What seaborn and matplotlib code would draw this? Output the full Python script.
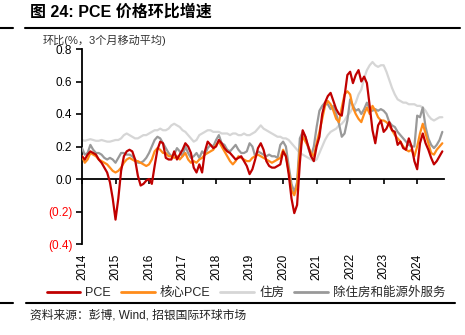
import numpy as np
import pandas as pd
import matplotlib
matplotlib.use("Agg")
import matplotlib.pyplot as plt
import seaborn as sns
from matplotlib.lines import Line2D

# ---- data (monthly, 3-month moving average, % m/m), Jan 2014 onward ----
pce = [0.14, 0.12, 0.15, 0.17, 0.16, 0.15, 0.12, 0.10, 0.07, 0.04, -0.02, -0.12,
       -0.25, -0.12, 0.05, 0.14, 0.17, 0.18, 0.17, 0.12, 0.02, -0.04, -0.03, -0.01,
       0.00, -0.03, 0.08, 0.18, 0.23, 0.22, 0.13, 0.12, 0.12, 0.17, 0.12, 0.15,
       0.18, 0.22, 0.20, 0.16, 0.07, 0.04, 0.09, 0.04, 0.17, 0.23, 0.21, 0.19,
       0.20, 0.24, 0.22, 0.19, 0.17, 0.16, 0.14, 0.12, 0.13, 0.14, 0.11, 0.08,
       0.03, 0.06, 0.12, 0.19, 0.22, 0.18, 0.11, 0.08, 0.07, 0.07, 0.08, 0.09,
       0.17, 0.14, 0.03, -0.12, -0.21, -0.16, 0.10, 0.30, 0.26, 0.20, 0.14, 0.11,
       0.20, 0.26, 0.40, 0.47, 0.51, 0.53, 0.48, 0.43, 0.40, 0.39, 0.51, 0.64,
       0.66, 0.59, 0.64, 0.67, 0.60, 0.63, 0.59, 0.45, 0.30, 0.22, 0.33, 0.36,
       0.29, 0.31, 0.35, 0.30, 0.29, 0.21, 0.23, 0.19, 0.18, 0.25, 0.20, 0.11,
       0.06, 0.22, 0.28, 0.22, 0.18, 0.13, 0.09, 0.11, 0.14, 0.17]
core_pce = [0.14, 0.10, 0.12, 0.16, 0.15, 0.14, 0.12, 0.11, 0.10, 0.09, 0.07, 0.05,
            0.04, 0.05, 0.07, 0.10, 0.12, 0.13, 0.12, 0.11, 0.11, 0.10, 0.09, 0.08,
            0.09, 0.12, 0.17, 0.19, 0.18, 0.16, 0.16, 0.14, 0.14, 0.13, 0.14, 0.12,
            0.14, 0.16, 0.12, 0.10, 0.11, 0.10, 0.12, 0.13, 0.15, 0.16, 0.17, 0.18,
            0.21, 0.23, 0.20, 0.17, 0.14, 0.11, 0.09, 0.11, 0.14, 0.13, 0.12, 0.11,
            0.11, 0.13, 0.14, 0.15, 0.14, 0.13, 0.12, 0.11, 0.10, 0.11, 0.12, 0.13,
            0.18, 0.14, 0.05, -0.07, -0.10, -0.04, 0.18, 0.26, 0.23, 0.20, 0.16, 0.14,
            0.22, 0.29, 0.37, 0.45, 0.48, 0.46, 0.42, 0.37, 0.35, 0.44, 0.52, 0.54,
            0.52, 0.44, 0.40, 0.37, 0.35, 0.40, 0.44, 0.40, 0.45, 0.42, 0.38, 0.36,
            0.36, 0.35, 0.33, 0.30, 0.27, 0.25, 0.23, 0.20, 0.18, 0.17, 0.18, 0.14,
            0.20, 0.28, 0.34, 0.28, 0.22, 0.16, 0.15, 0.18, 0.20, 0.22]
housing = [0.24, 0.235, 0.24, 0.245, 0.24, 0.235, 0.235, 0.24, 0.235, 0.23, 0.23, 0.235,
           0.24, 0.24, 0.25, 0.27, 0.28, 0.27, 0.26, 0.25, 0.25, 0.26, 0.27, 0.27,
           0.28, 0.29, 0.30, 0.30, 0.31, 0.30, 0.30, 0.31, 0.33, 0.34, 0.33, 0.32,
           0.30, 0.29, 0.27, 0.25, 0.23, 0.24, 0.27, 0.28, 0.29, 0.30, 0.30, 0.29,
           0.29, 0.29, 0.28, 0.28, 0.28, 0.27, 0.28, 0.28, 0.27, 0.27, 0.28, 0.27,
           0.27, 0.28, 0.29, 0.31, 0.33, 0.31, 0.30, 0.29, 0.28, 0.27, 0.26, 0.26,
           0.25, 0.25, 0.24, 0.22, 0.20, 0.18, 0.16, 0.15, 0.14, 0.13, 0.12, 0.11,
           0.12, 0.16, 0.20, 0.24, 0.27, 0.29, 0.30, 0.31, 0.33, 0.34, 0.36, 0.39,
           0.41, 0.44, 0.47, 0.52, 0.55, 0.62, 0.67, 0.70, 0.72, 0.70, 0.69, 0.70,
           0.70, 0.66, 0.61, 0.56, 0.52, 0.49, 0.48, 0.47, 0.47, 0.46, 0.46, 0.46,
           0.45, 0.45, 0.44, 0.42, 0.39, 0.37, 0.36, 0.37, 0.38, 0.38]
services_ex = [0.19, 0.15, 0.16, 0.21, 0.18, 0.16, 0.16, 0.15, 0.13, 0.12, 0.13, 0.12,
               0.10, 0.13, 0.16, 0.16, 0.15, 0.15, 0.14, 0.12, 0.10, 0.10, 0.11, 0.13,
               0.16, 0.20, 0.24, 0.26, 0.25, 0.22, 0.19, 0.16, 0.14, 0.15, 0.19, 0.17,
               0.14, 0.20, 0.16, 0.13, 0.14, 0.16, 0.13, 0.17, 0.15, 0.19, 0.21, 0.20,
               0.24, 0.27, 0.22, 0.21, 0.18, 0.17, 0.19, 0.21, 0.18, 0.16, 0.16, 0.17,
               0.22, 0.20, 0.14, 0.17, 0.16, 0.15, 0.14, 0.15, 0.14, 0.14, 0.13, 0.21,
               0.23, 0.20, 0.08, -0.03, -0.08, -0.02, 0.25, 0.29, 0.26, 0.19, 0.14, 0.20,
               0.32, 0.42, 0.45, 0.47, 0.46, 0.43, 0.45, 0.40, 0.34, 0.26, 0.28, 0.36,
               0.49, 0.45, 0.42, 0.43, 0.40, 0.43, 0.47, 0.43, 0.42, 0.43, 0.42, 0.43,
               0.42, 0.40, 0.35, 0.33, 0.32, 0.29, 0.27, 0.25, 0.23, 0.21, 0.20, 0.20,
               0.39, 0.38, 0.44, 0.32, 0.25, 0.21, 0.19, 0.21, 0.24, 0.29]
series_names = ["PCE", "核心PCE", "住房", "除住房和能源外服务"]
start_year = 2014
year_ticks = list(range(2014, 2025))
y_ticks = [-0.4, -0.2, 0.0, 0.2, 0.4, 0.6, 0.8]

title_text = "图 24: PCE 价格环比增速"
ylabel_text = "环比(%，3个月移动平均)"
source_text = "资料来源：彭博, Wind, 招银国际环球市场"

# ---- styling ----
colors = {"PCE": "#C00000", "核心PCE": "#FF8C1A", "住房": "#D6D6D6", "除住房和能源外服务": "#999999"}
zorders = {"PCE": 5, "核心PCE": 4, "住房": 2, "除住房和能源外服务": 3}

sns.set_theme(style="white")
plt.rcParams["font.family"] = ["Liberation Sans", "Noto Sans CJK SC", "DejaVu Sans"]
plt.rcParams["axes.unicode_minus"] = False

n = len(pce)
t = start_year + np.arange(n) / 12.0
df = pd.DataFrame({
    "t": np.tile(t, 4),
    "v": pce + core_pce + housing + services_ex,
    "s": np.repeat(series_names, n),
})

W, H = 465, 335
fig = plt.figure(figsize=(W / 100, H / 100), dpi=100)
ax = fig.add_axes([82 / W, 1 - 244 / H, (444 - 82) / W, (244 - 49) / H])

sns.lineplot(data=df, x="t", y="v", hue="s", hue_order=series_names,
             palette=colors, linewidth=1.6, ax=ax, legend=True)
for line, name in zip(ax.lines, series_names):
    line.set_zorder(zorders[name])

ax.set_xlim(2014, 2024.8)
ax.set_ylim(-0.4, 0.8)
ax.set_xlabel("")
ax.set_ylabel("")

for s in ["top", "right"]:
    ax.spines[s].set_visible(False)
ax.spines["bottom"].set_position(("data", 0))
ax.spines["bottom"].set_color("black")
ax.spines["bottom"].set_linewidth(1.3)
ax.spines["left"].set_color("black")
ax.spines["left"].set_linewidth(1.3)

ax.set_xticks(year_ticks)
ax.set_xticklabels([str(y) for y in year_ticks])
ax.tick_params(axis="x", direction="out", length=3.5, width=1.2, color="black",
               pad=50, labelrotation=90, labelsize=8.5, bottom=True)
ax.set_yticks(y_ticks)
ylabels = [f"({abs(v):.1f})" if v < 0 else f"{v:.1f}" for v in y_ticks]
ax.set_yticklabels(ylabels)
ax.tick_params(axis="y", direction="out", length=4, width=1.2, color="black",
               pad=3, labelsize=8.5, left=True)
for lab, v in zip(ax.get_yticklabels(), y_ticks):
    lab.set_color("#FF0000" if v < 0 else "black")
for lab in ax.get_xticklabels():
    lab.set_color("black")
ax.grid(False)

handles, labels = ax.get_legend_handles_labels()
for h in handles:
    h.set_linewidth(2.0)
ax.legend(handles, labels, loc="center", bbox_to_anchor=(246 / W, 1 - 293 / H),
          bbox_transform=fig.transFigure, ncol=4, frameon=False, fontsize=9,
          handlelength=2.7, handletextpad=0.4, columnspacing=0.8)

fig.text(30 / W, 1 - 12 / H, title_text, fontsize=11.5, fontweight="bold",
         va="center", ha="left", color="black")
fig.text(43 / W, 1 - 40 / H, ylabel_text, fontsize=8, va="center", ha="left", color="#333333")
fig.text(30 / W, 1 - 316 / H, source_text, fontsize=8.5, va="center", ha="left", color="#222222")

fig.add_artist(Line2D([25 / W, 460 / W], [1 - 28 / H] * 2, color="black", lw=1.5))
fig.add_artist(Line2D([0, 13 / W], [1 - 28 / H] * 2, color="black", lw=1.5))
fig.add_artist(Line2D([26 / W, 455 / W], [1 - 303 / H] * 2, color="black", lw=1.5))
fig.add_artist(Line2D([0, 13 / W], [1 - 303 / H] * 2, color="black", lw=1.5))

fig.savefig("out.png", dpi=100)
